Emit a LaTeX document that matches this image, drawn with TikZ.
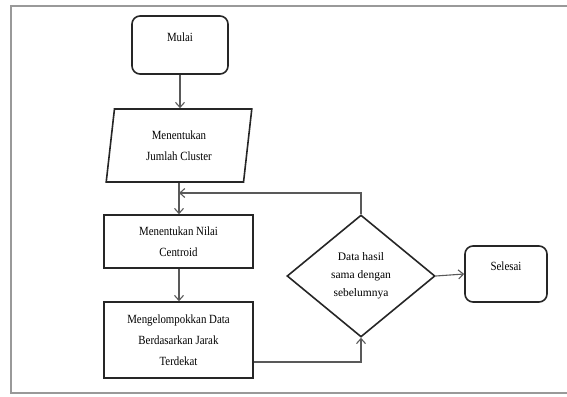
\documentclass[tikz,border=0pt]{standalone}
\usepackage{fontspec}
\setmainfont{Liberation Serif}[FakeStretch=0.87]
\newfontfamily\kecil{Liberation Serif}
\usetikzlibrary{shapes.geometric,arrows.meta}

\begin{document}
\begin{tikzpicture}[x=1pt, y=-1pt,
  every node/.style={font=\fontsize{12.5}{21}\selectfont, align=center, line width=1.6pt, draw=black!85},
  terminal/.style={rectangle, rounded corners=8pt, text height=8pt, text depth=15pt},
  proses/.style={rectangle, inner sep=0pt},
  masukan/.style={trapezium, trapezium left angle=82, trapezium right angle=98, trapezium stretches=true, inner sep=0pt},
  keputusan/.style={diamond, inner sep=0pt, font=\kecil\fontsize{11.5}{18}\selectfont},
  alur/.style={draw=black!65, line width=1.1pt, -{Straight Barb[length=5pt,width=9pt]}}]
\useasboundingbox (0,0) rectangle (567,396);
\draw[black!40, line width=1.6pt] (569,6) -- (11,6) -- (11,393) -- (569,393);

\node[terminal, minimum width=96pt, minimum height=58pt] (mulai) at (180,45) {Mulai};
\node[masukan, minimum width=146pt, minimum height=73pt] (jumlah) at (179,145.5) {Menentukan\\Jumlah Cluster};
\node[proses, minimum width=149pt, minimum height=53pt] (centroid) at (178.5,241.5) {Menentukan Nilai\\Centroid};
\node[proses, minimum width=149pt, minimum height=76pt] (kelompok) at (178.5,340) {Mengelompokkan Data\\Berdasarkan Jarak\\Terdekat};
\node[keputusan, minimum width=148pt, minimum height=122pt] (cek) at (361,276) {Data hasil\\sama dengan\\sebelumnya};
\node[terminal, minimum width=82pt, minimum height=56pt] (selesai) at (506,274) {Selesai};
\coordinate (balik) at (179,193);

\draw[alur] (mulai.south) -- (mulai.south |- jumlah.north);
\draw[alur] (jumlah.south) -- (jumlah.south |- centroid.north);
\draw[alur] (centroid.south -| balik) -- (kelompok.north -| balik);
\draw[alur] ([yshift=-22pt]kelompok.east) -| (cek.south);
\draw[alur] (cek.north) |- (balik);
\draw[alur] (cek.east) -- (selesai.west);
\end{tikzpicture}
\end{document}
